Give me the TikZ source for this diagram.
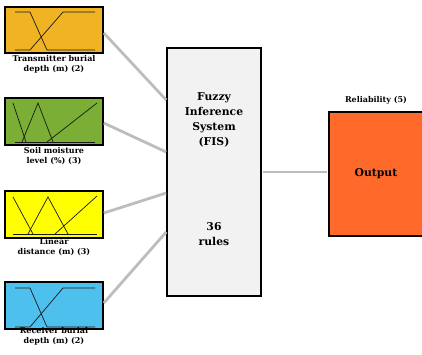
\documentclass[tikz,border=0pt]{standalone}
\usepackage{fontspec}
\setmainfont{DejaVu Serif}
\definecolor{cTx}{HTML}{EFB324}
\definecolor{cSoil}{HTML}{7AAE34}
\definecolor{cLin}{HTML}{FFFF00}
\definecolor{cRx}{HTML}{4EC0EE}
\definecolor{cFis}{HTML}{F2F2F2}
\definecolor{cOut}{HTML}{FF6A2B}
\definecolor{cLink}{HTML}{BDBDBD}
\tikzset{
  inbox/.style={draw=black, line width=1.6pt, minimum width=98pt, minimum height=46pt, inner sep=0pt},
  mf/.style={draw=black!90, line width=0.7pt},
  lbl/.style={font=\bfseries\fontsize{8}{10.5}\selectfont, align=center, inner sep=0pt},
  big/.style={font=\bfseries\fontsize{10.8}{15}\selectfont, align=center},
  link/.style={draw=cLink, line width=2.8pt}
}
\begin{document}
\begin{tikzpicture}[x=1pt,y=-1pt]
\useasboundingbox (0,0) rectangle (422,354);
% input boxes
\node[inbox, fill=cTx] (b1) at (54,30) {};
\node[inbox, fill=cSoil, minimum height=47pt] (b2) at (54,121.5) {};
\node[inbox, fill=cLin, minimum height=47pt] (b3) at (54,214.5) {};
\node[inbox, fill=cRx, minimum height=47pt] (b4) at (54,305.5) {};
% FIS and output
\node[draw=black, line width=1.6pt, fill=cFis, minimum width=94pt, minimum height=248pt, inner sep=0pt] (fis) at (214,172) {};
\node[draw=black, line width=1.6pt, fill=cOut, minimum width=104pt, minimum height=124pt, inner sep=0pt, anchor=north west] (out) at (328,111) {};
% membership functions box 1
\draw[mf] (15,12) -- (30,12) -- (47,50) -- (95,50);
\draw[mf] (15,50) -- (30,50) -- (63,12) -- (95,12);
% box 2
\draw[mf] (15,142) -- (95,142);
\draw[mf] (13,103) -- (26,142);
\draw[mf] (22,142) -- (38,103) -- (53,142);
\draw[mf] (47,142) -- (97,103);
% box 3
\draw[mf] (13,234) -- (97,234);
\draw[mf] (13,197) -- (33,234);
\draw[mf] (28,234) -- (48,197) -- (68,234);
\draw[mf] (55,234) -- (97,196);
% box 4
\draw[mf] (15,288) -- (30,288) -- (47,327) -- (95,327);
\draw[mf] (15,327) -- (30,327) -- (63,288) -- (95,288);
% links
\coordinate (f1) at (167,100);
\coordinate (f2) at (167,152);
\coordinate (f3) at (167,193);
\coordinate (f4) at (167,232);
\draw[link] ([yshift=-3pt]b1.east) -- ([xshift=-0.8pt]f1);
\draw[link] ([yshift=-1.5pt]b2.east) -- ([xshift=-0.8pt]f2);
\draw[link] ([yshift=1.5pt]b3.east) -- ([xshift=-0.8pt]f3);
\draw[link] ([yshift=2.5pt]b4.east) -- ([xshift=-0.8pt]f4);
\draw[link] ([xshift=0.8pt]fis.east) -- ([xshift=-0.8pt]fis.east -| out.west);
% labels
\node[lbl, anchor=north] (l1) at (54,55) {Transmitter burial\\depth (m) (2)};
\node[lbl, anchor=north] (l2) at (54,147) {Soil moisture\\level (\%) (3)};
\node[lbl, anchor=north] (l3) at (54,238) {Linear\\distance (m) (3)};
\node[lbl, anchor=north] (l4) at (54,327) {Receiver burial\\depth (m) (2)};
\node[lbl, anchor=south] (lr) at (376,104) {Reliability (5)};
\node[big] (t1) at (214,120) {Fuzzy\\Inference\\System\\(FIS)};
\node[big] (t2) at (214,234) {36\\rules};
\node[big] (t3) at (376,174) {Output};
\end{tikzpicture}
\end{document}
